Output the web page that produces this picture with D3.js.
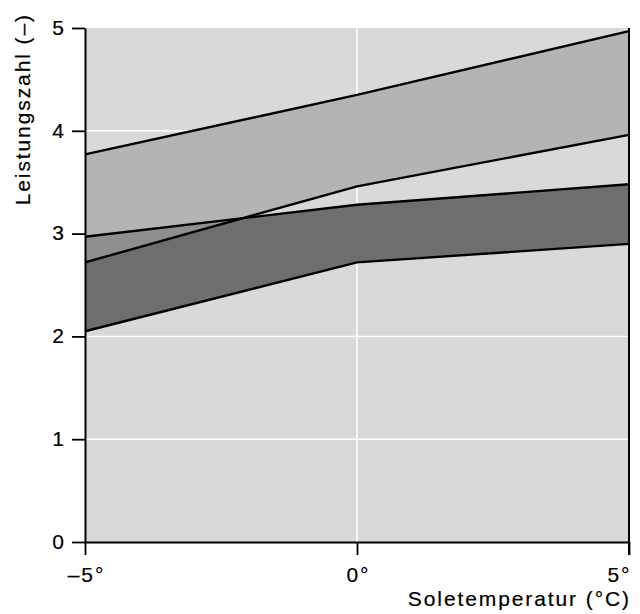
<!DOCTYPE html>
<html lang="de">
<head>
  <meta charset="utf-8">
  <script src="https://d3js.org/d3.v7.min.js"></script>
  <style>
    body { margin: 0; background: #fff; }
    text { font-family: "Liberation Sans", Arial, sans-serif; }
  </style>
</head>
<body>
<div id="chart"></div>
<script>
// data
var temps = [-5, 0, 5];
var upperTop = [3.77, 4.35, 4.97];
var upperBottom = [2.72, 3.46, 3.96];
var lowerTop = [2.97, 3.28, 3.48];
var lowerBottom = [2.05, 2.72, 2.90];
var yTicks = [0, 1, 2, 3, 4, 5];
var xTicks = [-5, 0, 5];
var xLabel = "Soletemperatur (°C)";
var yLabel = "Leistungszahl (–)";

var width = 640,
    height = 614;
var margin = {top: 28, right: 11, bottom: 72, left: 85};
var fontSize = 21, spacing = 1.9;

var svg = d3.select("#chart").append("svg")
    .attr("width", width)
    .attr("height", height);

var x = d3.scaleLinear().domain([-5, 5]).range([margin.left, width - margin.right]);
var y = d3.scaleLinear().domain([0, 5]).range([height - margin.bottom, margin.top]);

// plot background
svg.append("rect")
    .attr("x", x(-5)).attr("y", y(5))
    .attr("width", x(5) - x(-5)).attr("height", y(0) - y(5))
    .attr("fill", "#d9d9d9");

// white grid
svg.selectAll(".hgrid").data(yTicks.filter(function(d) { return d > 0 && d < 5; }))
  .enter().append("line")
    .attr("x1", x(-5)).attr("x2", x(5))
    .attr("y1", function(d) { return y(d); }).attr("y2", function(d) { return y(d); })
    .attr("stroke", "#fff").attr("stroke-width", 1.5);
svg.append("line")
    .attr("x1", x(0)).attr("x2", x(0))
    .attr("y1", y(0)).attr("y2", y(5))
    .attr("stroke", "#fff").attr("stroke-width", 1.5);

function band(top, bottom) {
  return temps.map(function(t, i) { return {t: t, hi: top[i], lo: bottom[i]}; });
}
var area = d3.area()
    .x(function(d) { return x(d.t); })
    .y0(function(d) { return y(d.lo); })
    .y1(function(d) { return y(d.hi); });
var line = d3.line()
    .x(function(d) { return x(d[0]); })
    .y(function(d) { return y(d[1]); });

var upper = band(upperTop, upperBottom),
    lower = band(lowerTop, lowerBottom);

svg.append("clipPath").attr("id", "clipUpper")
  .append("path").attr("d", area(upper));

svg.append("path").attr("d", area(upper)).attr("fill", "#b4b4b4");
svg.append("path").attr("d", area(lower)).attr("fill", "#6e6e6e");
// where both bands overlap
svg.append("path").attr("d", area(lower)).attr("fill", "#8e8e8e")
    .attr("clip-path", "url(#clipUpper)");

[upperTop, upperBottom, lowerTop, lowerBottom].forEach(function(s) {
  svg.append("path")
      .attr("d", line(temps.map(function(t, i) { return [t, s[i]]; })))
      .attr("fill", "none")
      .attr("stroke", "#000")
      .attr("stroke-width", 2.4)
      .attr("stroke-linejoin", "round");
});

// axes
var xAxis = svg.append("g")
    .attr("transform", "translate(0," + y(0) + ")")
    .call(d3.axisBottom(x).tickValues(xTicks).tickSize(13).tickSizeOuter(0).tickPadding(12)
      .tickFormat(function(d) { return (d < 0 ? "–" + Math.abs(d) : d) + "°"; }));
var yAxis = svg.append("g")
    .attr("transform", "translate(" + x(-5) + ",0)")
    .call(d3.axisLeft(y).tickValues(yTicks).tickSize(13).tickSizeOuter(0).tickPadding(8)
      .tickFormat(d3.format("d")));

[xAxis, yAxis].forEach(function(g) {
  g.select(".domain").attr("stroke", "#000").attr("stroke-width", 2);
  g.selectAll(".tick line").attr("stroke", "#000").attr("stroke-width", 1.8);
  g.selectAll("text")
      .attr("fill", "#000")
      .attr("stroke", "#000").attr("stroke-width", 0.2)
      .style("font-size", fontSize + "px")
      .style("letter-spacing", spacing + "px")
      .style("font-family", "'Liberation Sans', Arial, sans-serif");
});
xAxis.selectAll(".tick text").attr("dx", spacing / 2);
xAxis.selectAll(".tick text").filter(function(d) { return d === 5; })
    .attr("text-anchor", "end").attr("dx", spacing);
yAxis.selectAll(".tick text").attr("dx", spacing).attr("dy", "0.3em");

// right border
svg.append("line")
    .attr("x1", x(5)).attr("x2", x(5))
    .attr("y1", y(5)).attr("y2", y(0) + 13)
    .attr("stroke", "#000").attr("stroke-width", 2);

// axis titles
svg.append("text")
    .attr("x", x(5) + spacing)
    .attr("y", 606)
    .attr("text-anchor", "end")
    .attr("stroke", "#000").attr("stroke-width", 0.2)
    .style("font-size", fontSize + "px")
    .style("letter-spacing", spacing + "px")
    .text(xLabel);

svg.append("text")
    .attr("transform", "rotate(-90)")
    .attr("x", -15 + spacing)
    .attr("y", 30)
    .attr("text-anchor", "end")
    .attr("stroke", "#000").attr("stroke-width", 0.2)
    .style("font-size", fontSize + "px")
    .style("letter-spacing", spacing + "px")
    .text(yLabel);
</script>
</body>
</html>
